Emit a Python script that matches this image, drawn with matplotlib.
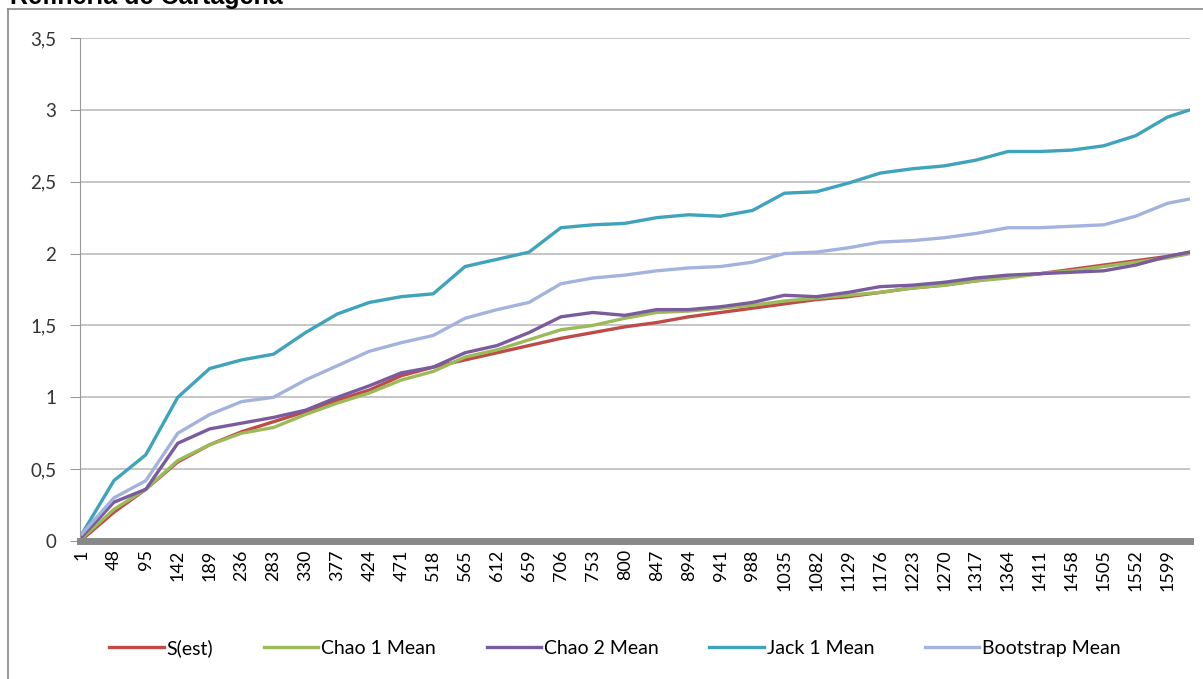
import matplotlib.pyplot as plt

# Categorías del eje X (muestras)
ticks = [1, 48, 95, 142, 189, 236, 283, 330, 377, 424, 471, 518, 565, 612, 659, 706,
         753, 800, 847, 894, 941, 988, 1035, 1082, 1129, 1176, 1223, 1270, 1317, 1364,
         1411, 1458, 1505, 1552, 1599]
muestras = ticks + [1632]

s_est = [0.01, 0.20, 0.36, 0.55, 0.67, 0.76, 0.83, 0.90, 0.98, 1.05, 1.15, 1.21, 1.26, 1.31,
         1.36, 1.41, 1.45, 1.49, 1.52, 1.56, 1.59, 1.62, 1.65, 1.68, 1.70, 1.73, 1.76, 1.78,
         1.81, 1.84, 1.86, 1.89, 1.92, 1.95, 1.98, 2.01]
chao1 = [0.02, 0.22, 0.36, 0.56, 0.67, 0.75, 0.79, 0.88, 0.96, 1.03, 1.12, 1.18, 1.28, 1.33,
         1.40, 1.47, 1.50, 1.55, 1.59, 1.60, 1.62, 1.64, 1.67, 1.69, 1.71, 1.73, 1.76, 1.78,
         1.81, 1.83, 1.86, 1.88, 1.91, 1.94, 1.97, 2.00]
chao2 = [0.03, 0.27, 0.36, 0.68, 0.78, 0.82, 0.86, 0.91, 1.00, 1.08, 1.17, 1.21, 1.31, 1.36,
         1.45, 1.56, 1.59, 1.57, 1.61, 1.61, 1.63, 1.66, 1.71, 1.70, 1.73, 1.77, 1.78, 1.80,
         1.83, 1.85, 1.86, 1.87, 1.88, 1.92, 1.98, 2.01]
jack1 = [0.05, 0.42, 0.60, 1.00, 1.20, 1.26, 1.30, 1.45, 1.58, 1.66, 1.70, 1.72, 1.91, 1.96,
         2.01, 2.18, 2.20, 2.21, 2.25, 2.27, 2.26, 2.30, 2.42, 2.43, 2.49, 2.56, 2.59, 2.61,
         2.65, 2.71, 2.71, 2.72, 2.75, 2.82, 2.95, 3.00]
bootstrap = [0.05, 0.30, 0.42, 0.75, 0.88, 0.97, 1.00, 1.12, 1.22, 1.32, 1.38, 1.43, 1.55, 1.61,
             1.66, 1.79, 1.83, 1.85, 1.88, 1.90, 1.91, 1.94, 2.00, 2.01, 2.04, 2.08, 2.09, 2.11,
             2.14, 2.18, 2.18, 2.19, 2.20, 2.26, 2.35, 2.38]

series = [('S(est)', s_est, '#BE4B48'),
          ('Chao 1 Mean', chao1, '#9BBB59'),
          ('Chao 2 Mean', chao2, '#7A5C9E'),
          ('Jack 1 Mean', jack1, '#3FA3BC'),
          ('Bootstrap Mean', bootstrap, '#A3B3DD')]

plt.rcParams['font.family'] = ['Lato', 'DejaVu Sans']

fig = plt.figure(figsize=(12.03, 6.79), dpi=100)
ax = fig.add_axes([80 / 1203, 138 / 679, 1110 / 1203, 503 / 679])

for nombre, valores, color in series:
    ax.plot(muestras, valores, color=color, lw=2.4, label=nombre, solid_joinstyle='round')

ax.set_xlim(-1.9, 1632)
ax.set_ylim(0, 3.5)
ax.set_yticks([0, 0.5, 1, 1.5, 2, 2.5, 3, 3.5])
ax.set_yticklabels(['0', '0,5', '1', '1,5', '2', '2,5', '3', '3,5'], fontsize=13.5, color='#333333')
ax.set_xticks(ticks)
ax.set_xticklabels([str(t) for t in ticks], rotation=90, fontsize=13)
ax.tick_params(axis='x', length=0, pad=6)
ax.tick_params(axis='y', length=7, color='#999999', pad=10)
ax.grid(axis='y', color='#BBBBBB', lw=1.2)
ax.set_axisbelow(True)

for lado in ['top', 'right']:
    ax.spines[lado].set_visible(False)
ax.spines['left'].set_color('#999999')
ax.spines['bottom'].set_color('#888888')
ax.spines['bottom'].set_linewidth(5)

ax.legend(loc='center', bbox_to_anchor=(615 / 1203, 31 / 679), bbox_transform=fig.transFigure,
          ncol=5, frameon=False, fontsize=14, handlelength=2.8, columnspacing=2.6,
          handletextpad=0.15)

# Marco del gráfico y título recortado
fig.add_artist(plt.Line2D([8 / 1203, 8 / 1203], [0, 1 - 9 / 679], transform=fig.transFigure,
                          color='#888888', lw=1.2))
fig.add_artist(plt.Line2D([8 / 1203, 1], [1 - 9 / 679, 1 - 9 / 679], transform=fig.transFigure,
                          color='#888888', lw=1.2))
fig.text(10 / 1203, 1 - 4 / 679, 'Refinería de Cartagena', family='Liberation Sans',
         fontweight='bold', fontsize=18, va='baseline')

plt.savefig('out.png', dpi=100)
